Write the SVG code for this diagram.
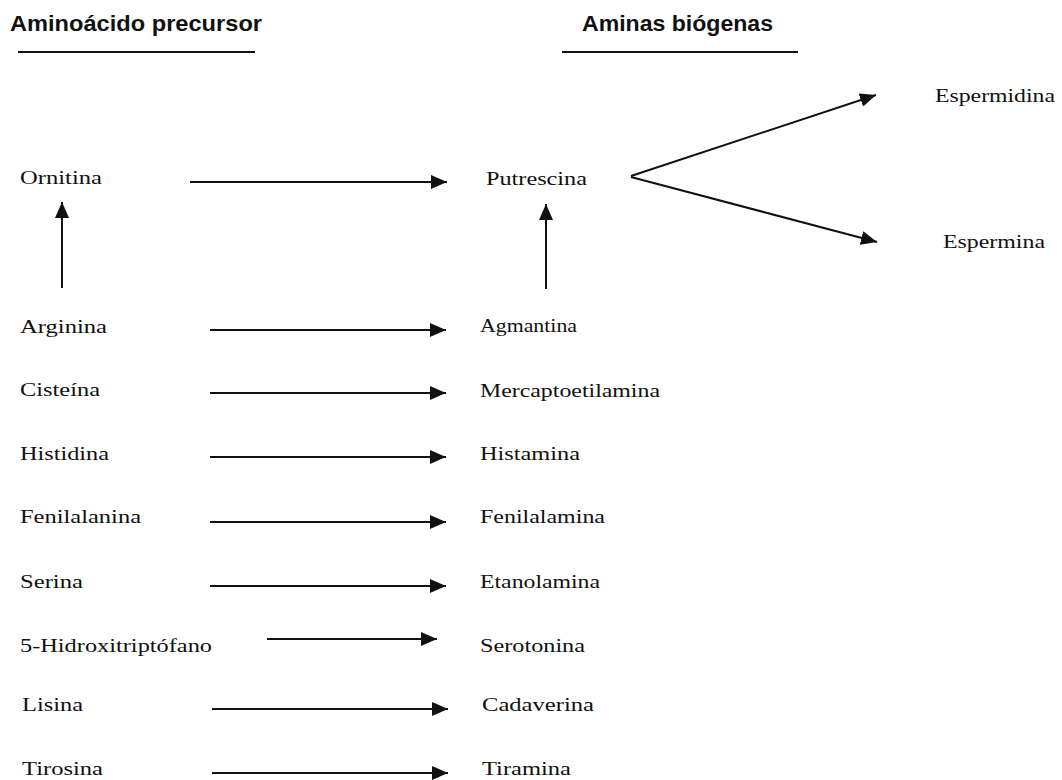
<svg xmlns="http://www.w3.org/2000/svg" width="1062" height="780" viewBox="0 0 1062 780">
<style>
.hdr{font-family:"Liberation Sans",Arial,sans-serif;font-weight:bold;font-size:22px;fill:#111}
.lbl{font-family:"Liberation Serif","Times New Roman",serif;font-size:19px;fill:#111}
.ul{stroke:#111;stroke-width:2}
.arr{stroke:#111;stroke-width:2;fill:none;marker-end:url(#ah)}
</style>
<defs>
<marker id="ah" markerUnits="userSpaceOnUse" markerWidth="16" markerHeight="14" refX="16" refY="7" orient="auto">
<path d="M0,0 L16,7 L0,14 z" fill="#111"/>
</marker>
</defs>
<rect width="1062" height="780" fill="#fff"/>
<g id="headers">
<text class="hdr" x="10" y="31" textLength="252" lengthAdjust="spacingAndGlyphs">Aminoácido precursor</text>
<line class="ul" x1="18" y1="52" x2="255" y2="52"/>
<text class="hdr" x="582" y="31" textLength="191" lengthAdjust="spacingAndGlyphs">Aminas biógenas</text>
<line class="ul" x1="562" y1="52" x2="798" y2="52"/>
</g>
<g id="n-ornitina"><text class="lbl" x="20" y="184" textLength="82" lengthAdjust="spacingAndGlyphs">Ornitina</text></g>
<g id="n-putrescina"><text class="lbl" x="486" y="185" textLength="101" lengthAdjust="spacingAndGlyphs">Putrescina</text></g>
<g id="n-espermidina"><text class="lbl" x="935" y="102" textLength="120" lengthAdjust="spacingAndGlyphs">Espermidina</text></g>
<g id="n-espermina"><text class="lbl" x="943" y="248" textLength="102" lengthAdjust="spacingAndGlyphs">Espermina</text></g>
<g id="n-arginina"><text class="lbl" x="20" y="333" textLength="87" lengthAdjust="spacingAndGlyphs">Arginina</text></g>
<g id="n-agmantina"><text class="lbl" x="480" y="332" textLength="97" lengthAdjust="spacingAndGlyphs">Agmantina</text></g>
<g id="n-cisteina"><text class="lbl" x="20" y="396" textLength="80" lengthAdjust="spacingAndGlyphs">Cisteína</text></g>
<g id="n-mercapto"><text class="lbl" x="480" y="397" textLength="180" lengthAdjust="spacingAndGlyphs">Mercaptoetilamina</text></g>
<g id="n-histidina"><text class="lbl" x="20" y="460" textLength="89" lengthAdjust="spacingAndGlyphs">Histidina</text></g>
<g id="n-histamina"><text class="lbl" x="480" y="460" textLength="100" lengthAdjust="spacingAndGlyphs">Histamina</text></g>
<g id="n-fenilalanina"><text class="lbl" x="20" y="523" textLength="121" lengthAdjust="spacingAndGlyphs">Fenilalanina</text></g>
<g id="n-fenilalamina"><text class="lbl" x="480" y="523" textLength="125" lengthAdjust="spacingAndGlyphs">Fenilalamina</text></g>
<g id="n-serina"><text class="lbl" x="20" y="588" textLength="63" lengthAdjust="spacingAndGlyphs">Serina</text></g>
<g id="n-etanolamina"><text class="lbl" x="480" y="588" textLength="120" lengthAdjust="spacingAndGlyphs">Etanolamina</text></g>
<g id="n-5htp"><text class="lbl" x="20" y="652" textLength="192" lengthAdjust="spacingAndGlyphs">5-Hidroxitriptófano</text></g>
<g id="n-serotonina"><text class="lbl" x="480" y="652" textLength="105" lengthAdjust="spacingAndGlyphs">Serotonina</text></g>
<g id="n-lisina"><text class="lbl" x="22" y="711" textLength="61" lengthAdjust="spacingAndGlyphs">Lisina</text></g>
<g id="n-cadaverina"><text class="lbl" x="482" y="711" textLength="112" lengthAdjust="spacingAndGlyphs">Cadaverina</text></g>
<g id="n-tirosina"><text class="lbl" x="22" y="775" textLength="81" lengthAdjust="spacingAndGlyphs">Tirosina</text></g>
<g id="n-tiramina"><text class="lbl" x="482" y="775" textLength="89" lengthAdjust="spacingAndGlyphs">Tiramina</text></g>
<g id="connectors">
<line class="arr" x1="190" y1="182" x2="447" y2="182"/>
<line class="arr" x1="62" y1="288" x2="62" y2="202"/>
<line class="arr" x1="546" y1="289" x2="546" y2="204"/>
<line class="arr" x1="631" y1="176" x2="876" y2="95"/>
<line class="arr" x1="631" y1="177" x2="877" y2="242"/>
<line class="arr" x1="210" y1="330" x2="446" y2="330"/>
<line class="arr" x1="210" y1="393" x2="446" y2="393"/>
<line class="arr" x1="210" y1="457" x2="446" y2="457"/>
<line class="arr" x1="210" y1="522" x2="446" y2="522"/>
<line class="arr" x1="210" y1="586" x2="446" y2="586"/>
<line class="arr" x1="267" y1="639" x2="437" y2="639"/>
<line class="arr" x1="212" y1="709" x2="448" y2="709"/>
<line class="arr" x1="212" y1="773" x2="448" y2="773"/>
</g>
</svg>
